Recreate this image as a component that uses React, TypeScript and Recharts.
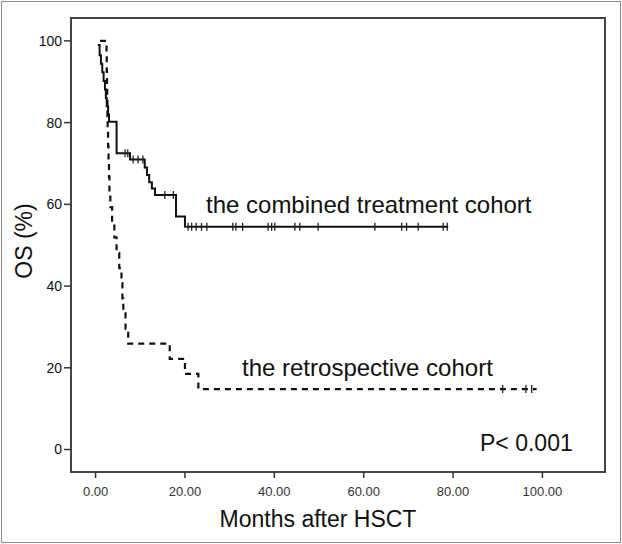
import React from "react";
import {
  ComposedChart,
  Line,
  Scatter,
  XAxis,
  YAxis,
  ReferenceArea,
} from "recharts";

// Kaplan–Meier curve: the combined treatment cohort (event times in months, OS %)
const combinedTimes = [0.5, 0.9, 1.2, 1.5, 1.8, 2.1, 2.3, 2.5, 2.8, 3.0, 4.7, 7.7, 11.0, 11.5, 12.0, 12.6, 13.3, 18.0, 20.0, 78.9];
const combinedSurvival = [99.0, 96.5, 94.4, 92.3, 90.2, 88.1, 86.0, 84.0, 82.0, 80.2, 72.5, 71.0, 69.0, 67.2, 65.4, 63.9, 62.3, 57.0, 54.5, 54.5];
const combinedCensored = [6.6, 7.2, 8.4, 9.5, 10.6, 15.5, 17.4, 20.7, 21.5, 22.5, 23.7, 24.9, 30.7, 31.4, 32.9, 38.6, 39.4, 40.1, 44.6, 45.7, 49.8, 62.5, 68.5, 69.6, 72.2, 77.8, 78.7];

// Kaplan–Meier curve: the retrospective cohort
const retroTimes = [1.0, 2.45, 2.5, 2.55, 2.6, 2.65, 2.7, 2.8, 2.9, 3.0, 3.1, 3.3, 3.7, 4.2, 4.7, 5.3, 5.8, 6.0, 6.2, 6.7, 7.3, 16.6, 20.0, 23.0, 98.7];
const retroSurvival = [100, 96.3, 92.6, 88.9, 85.2, 81.5, 77.8, 74.1, 70.4, 66.7, 63.0, 59.3, 55.6, 51.9, 48.1, 44.4, 40.7, 37.0, 33.3, 29.6, 25.9, 22.2, 18.5, 14.8, 14.8];
const retroCensored = [91.1, 96.3, 97.6];

const xTicks = [0, 20, 40, 60, 80, 100];
const yTicks = [0, 20, 40, 60, 80, 100];

const X_DOMAIN: [number, number] = [-5.5, 114];
const Y_DOMAIN: [number, number] = [-5.5, 105.6];

const FONT = "'Liberation Sans', Arial, sans-serif";

function toSeries(times: number[], surv: number[]) {
  return times.map((t, i) => ({ x: t, y: surv[i] }));
}

function levelAt(times: number[], surv: number[], t: number) {
  let v = surv[0];
  for (let i = 0; i < times.length; i++) {
    if (times[i] <= t) v = surv[i];
  }
  return v;
}

function censorPoints(cens: number[], times: number[], surv: number[]) {
  return cens.map((t) => ({ x: t, y: levelAt(times, surv, t) }));
}

const combinedData = toSeries(combinedTimes, combinedSurvival);
const retroData = toSeries(retroTimes, retroSurvival);
const combinedCensorData = censorPoints(combinedCensored, combinedTimes, combinedSurvival);
const retroCensorData = censorPoints(retroCensored, retroTimes, retroSurvival);

const CensorMark = (props: any) => {
  const { cx, cy } = props;
  if (cx == null || cy == null) return null;
  return (
    <line x1={cx} x2={cx} y1={cy - 4} y2={cy + 4} stroke="#222" strokeWidth={1.3} />
  );
};

export default function App() {
  return (
    <div style={{ position: "absolute", left: 0, top: 0, width: 622, height: 544, background: "#fff" }}>
      <div
        style={{
          position: "absolute",
          left: 1,
          top: 1,
          width: 620,
          height: 542,
          boxSizing: "border-box",
          border: "1.5px solid #8c8c8c",
        }}
      />
      <div style={{ position: "absolute", left: 0, top: 0 }}>
        <ComposedChart
          width={622}
          height={544}
          margin={{ top: 18, right: 17, bottom: 0, left: 0 }}
        >
          <XAxis
            type="number"
            dataKey="x"
            domain={X_DOMAIN}
            allowDataOverflow
            ticks={xTicks}
            tickFormatter={(v: number) => v.toFixed(2)}
            height={72}
            axisLine={false}
            tickSize={6}
            tickMargin={9}
            tickLine={{ stroke: "#333", strokeWidth: 1.5 }}
            tick={{ fontSize: 13, fill: "#333", fontFamily: FONT }}
          />
          <YAxis
            type="number"
            dataKey="y"
            domain={Y_DOMAIN}
            allowDataOverflow
            ticks={yTicks}
            width={71}
            axisLine={false}
            tickSize={7}
            tickMargin={2}
            tickLine={{ stroke: "#333", strokeWidth: 1.5 }}
            tick={{ fontSize: 14, fill: "#111", fontFamily: FONT }}
          />
          <ReferenceArea
            x1={X_DOMAIN[0]}
            x2={X_DOMAIN[1]}
            y1={Y_DOMAIN[0]}
            y2={Y_DOMAIN[1]}
            fill="none"
            fillOpacity={0}
            stroke="#444"
            strokeWidth={2}
            ifOverflow="visible"
          />
          <Line
            data={retroData}
            dataKey="y"
            type="stepAfter"
            stroke="#111"
            strokeWidth={2.2}
            strokeDasharray="6 5"
            dot={false}
            activeDot={false}
            isAnimationActive={false}
          />
          <Line
            data={combinedData}
            dataKey="y"
            type="stepAfter"
            stroke="#111"
            strokeWidth={2}
            dot={false}
            activeDot={false}
            isAnimationActive={false}
          />
          <Scatter data={combinedCensorData} dataKey="y" shape={CensorMark} isAnimationActive={false} />
          <Scatter data={retroCensorData} dataKey="y" shape={CensorMark} isAnimationActive={false} />
        </ComposedChart>
      </div>
      <svg
        width={622}
        height={544}
        style={{ position: "absolute", left: 0, top: 0, pointerEvents: "none" }}
      >
        <g fontFamily={FONT} fill="#111">
          <text x={206} y={213} fontSize={24}>the combined treatment cohort</text>
          <text x={242} y={376} fontSize={24}>the retrospective cohort</text>
          <text x={480} y={451} fontSize={23}>P&lt; 0.001</text>
          <text x={318} y={527} fontSize={23} textAnchor="middle">Months after HSCT</text>
          <text x={32} y={241} fontSize={23} textAnchor="middle" transform="rotate(-90, 32, 241)">OS (%)</text>
        </g>
      </svg>
    </div>
  );
}
